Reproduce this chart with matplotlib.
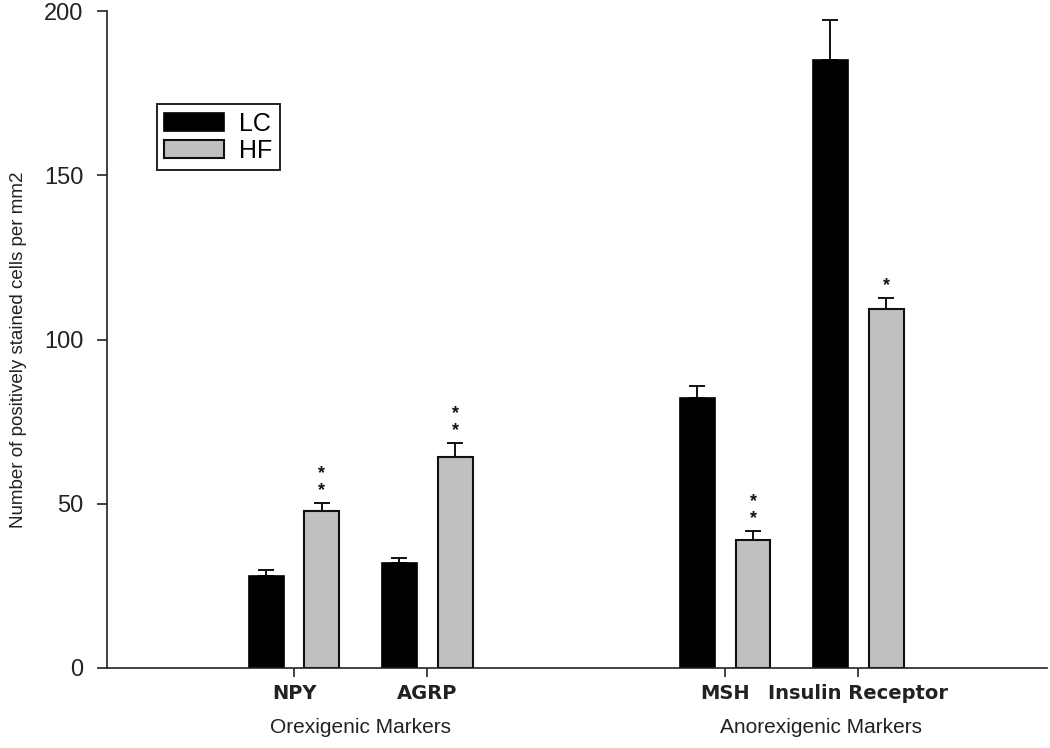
import numpy as np
import matplotlib.pyplot as plt

markers = ['NPY', 'AGRP', 'MSH', 'Insulin Receptor']
groups = ['Orexigenic Markers', 'Anorexigenic Markers']
lc_mean = [28.1, 31.9, 82.1, 185.2]
lc_err = [1.7, 1.7, 3.6, 12.0]
hf_mean = [47.9, 64.3, 38.9, 109.3]
hf_err = [2.4, 4.3, 2.9, 3.4]
hf_sig = ['**', '**', '**', '*']

plt.rcParams['font.family'] = ['Liberation Sans', 'DejaVu Sans']

fig = plt.figure(figsize=(10.5, 7.48), dpi=100)
ax = fig.add_axes([107/1050, 80/748, 940/1050, 657/748])

# marker positions: two pairs, second pair shifted right
x = np.array([1.0, 2.0, 4.24, 5.24])
off = 0.21
w = 0.263

ax.bar(x - off, lc_mean, w, color='black', edgecolor='black', linewidth=1.2, label='LC', zorder=2)
ax.bar(x + off, hf_mean, w, color='#c0c0c0', edgecolor='#111111', linewidth=1.5, label='HF', zorder=2)
ax.errorbar(x - off, lc_mean, yerr=[np.zeros(4), lc_err], fmt='none', ecolor='#111111',
            elinewidth=1.4, capsize=6, capthick=1.4, zorder=1)
ax.errorbar(x + off, hf_mean, yerr=[np.zeros(4), hf_err], fmt='none', ecolor='#111111',
            elinewidth=1.4, capsize=6, capthick=1.4, zorder=1)

# significance stars stacked above the HF error caps
for xi, m, e, s in zip(x + off, hf_mean, hf_err, hf_sig):
    for k in range(len(s)):
        ax.text(xi, m + e + 3.6 + 5.3 * k, '*', ha='center', va='center',
                fontsize=13, fontweight='bold', color='#111111')

ax.set_xlim(-0.406, 6.66)
ax.set_ylim(0, 200)
ax.set_yticks([0, 50, 100, 150, 200])
ax.set_xticks(x)
ax.set_xticklabels(markers, fontsize=14, fontweight='bold', family='DejaVu Sans')
ax.tick_params(axis='y', direction='out', length=7, width=1.2, labelsize=17, pad=10, colors='#222222')
ax.tick_params(axis='x', direction='out', length=6.5, width=1.2, pad=5, colors='#222222')

for sp in ['top', 'right']:
    ax.spines[sp].set_visible(False)
for sp in ['left', 'bottom']:
    ax.spines[sp].set_linewidth(1.2)
    ax.spines[sp].set_color('#222222')

ax.text(1.5, -0.091, groups[0], transform=ax.get_xaxis_transform(),
        ha='center', va='center', fontsize=15, color='#222222')
ax.text(4.96, -0.091, groups[1], transform=ax.get_xaxis_transform(),
        ha='center', va='center', fontsize=15, color='#222222')

ax.set_ylabel('Number of positively stained cells per mm2', fontsize=13.5, color='#222222')
ax.yaxis.set_label_coords(-0.085, 0.484)

leg = ax.legend(loc='upper left', bbox_to_anchor=(0.053, 0.858), fontsize=18,
                handlelength=2.4, handleheight=0.72, fancybox=False, framealpha=1,
                edgecolor='#222222', borderaxespad=0, borderpad=0.3, labelspacing=0.12,
                handletextpad=0.6)
leg.get_frame().set_linewidth(1.4)

fig.savefig('out.png', dpi=100)
